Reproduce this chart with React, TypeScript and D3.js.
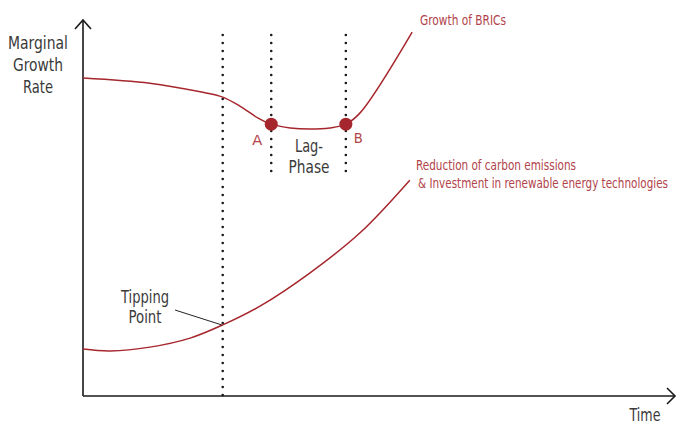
import React from "react";
import * as d3 from "d3";

type Pt = [number, number];

// Curves in data units (time 0..100, rate 0..100)
const bricsCurve: Pt[] = [
  [0, 84.6], [11.3, 83.2], [19.8, 80.9], [23.6, 79.5], [26.5, 77.1], [29.6, 73.9],
  [31.8, 72.3], [35.0, 71.3], [38.3, 71.0], [41.7, 71.3], [44.4, 72.3], [46.8, 75.3],
  [55.6, 96.8],
];
const carbonCurve: Pt[] = [
  [0, 12.5], [4.6, 12.0], [11.3, 13.0], [18.1, 15.4], [23.6, 18.9], [29.9, 23.9],
  [38.3, 32.7], [46.8, 43.4], [55.2, 57.4],
];
const markers = [
  { label: "A", x: 31.8, y: 72.3, dx: -19, dy: 21, w: 10 },
  { label: "B", x: 44.4, y: 72.3, dx: 8, dy: 19, w: 9 },
];
const dottedLines = [
  { x: 23.6, y0: 0, y1: 96.0 },
  { x: 31.8, y0: 58.2, y1: 96.0 },
  { x: 44.4, y0: 58.2, y1: 96.0 },
];
const yLabelLines = ["Marginal", "Growth", "Rate"];
const yLabelWidths = [60, 50, 30];
const lagLines = ["Lag-", "Phase"];
const lagWidths = [28, 41];
const tipLines = ["Tipping", "Point"];
const tipWidths = [48, 33];
const carbonLabel = ["Reduction of carbon emissions", "& Investment in renewable energy technologies"];
const carbonWidths = [160, 250];

const W = 678, H = 425;
const RED = "#a6262d";
const TEXTRED = "#b2434a";
const GRAY = "#3a3a3a";
const FONT = "'DejaVu Sans Condensed', 'DejaVu Sans', sans-serif";

export default function App() {
  const x = d3.scaleLinear().domain([0, 100]).range([83, 675]);
  const y = d3.scaleLinear().domain([0, 100]).range([396, 20]);
  const line = d3.line<Pt>().x(d => x(d[0])).y(d => y(d[1])).curve(d3.curveCatmullRom.alpha(0.5));

  const x0 = x(0), y0 = y(0), xEnd = x(100), yTop = y(100);
  const tipX = x(23.6), tipY = y(18.9);
  const fit = { lengthAdjust: "spacingAndGlyphs" as const, style: { fontStretch: "condensed" } };

  return (
    <svg width={W} height={H} style={{ position: "absolute", left: 0, top: 0, background: "#fff" }}>
      {dottedLines.map((d, i) => (
        <line key={i} x1={x(d.x)} x2={x(d.x)} y1={y(d.y1)} y2={y(d.y0)}
          stroke="#1a1a1a" strokeWidth={2.6} strokeLinecap="round" strokeDasharray="0 8" />
      ))}
      <g stroke="#1a1a1a" strokeWidth={1.6} fill="none">
        <line x1={x0} y1={y0} x2={x0} y2={yTop} />
        <line x1={x0} y1={y0} x2={xEnd} y2={y0} />
        <polyline points={`${x0 - 8},${yTop + 9} ${x0},${yTop} ${x0 + 8},${yTop + 9}`} />
        <polyline points={`${xEnd - 8},${y0 - 8} ${xEnd},${y0} ${xEnd - 8},${y0 + 8}`} />
      </g>
      <path d={line(bricsCurve) || ""} fill="none" stroke={RED} strokeWidth={1.5} />
      <path d={line(carbonCurve) || ""} fill="none" stroke={RED} strokeWidth={1.5} />
      {markers.map(m => (
        <g key={m.label}>
          <circle cx={x(m.x)} cy={y(m.y)} r={6.5} fill={RED} />
          <text x={x(m.x) + m.dx} y={y(m.y) + m.dy} fill={TEXTRED} fontFamily={FONT} fontSize={14}
            textLength={m.w} {...fit}>{m.label}</text>
        </g>
      ))}
      <line x1={175} y1={310} x2={tipX - 1} y2={tipY} stroke="#222" strokeWidth={1} />
      <g fontFamily={FONT} fill={GRAY} fontSize={17} textAnchor="middle">
        {yLabelLines.map((t, i) => <text key={t} x={38} y={49 + i * 22} textLength={yLabelWidths[i]} {...fit}>{t}</text>)}
        {lagLines.map((t, i) => <text key={t} x={309} y={152 + i * 21} textLength={lagWidths[i]} {...fit}>{t}</text>)}
        {tipLines.map((t, i) => <text key={t} x={145} y={303 + i * 20} textLength={tipWidths[i]} {...fit}>{t}</text>)}
        <text x={645} y={421} textLength={31} {...fit}>Time</text>
      </g>
      <g fontFamily={FONT} fill={TEXTRED} fontSize={14.5}>
        <text x={420} y={25} textLength={86} {...fit}>Growth of BRICs</text>
        {carbonLabel.map((t, i) => (
          <text key={t} x={416 + i * 2} y={170 + i * 18} textLength={carbonWidths[i]} {...fit}>{t}</text>
        ))}
      </g>
    </svg>
  );
}
